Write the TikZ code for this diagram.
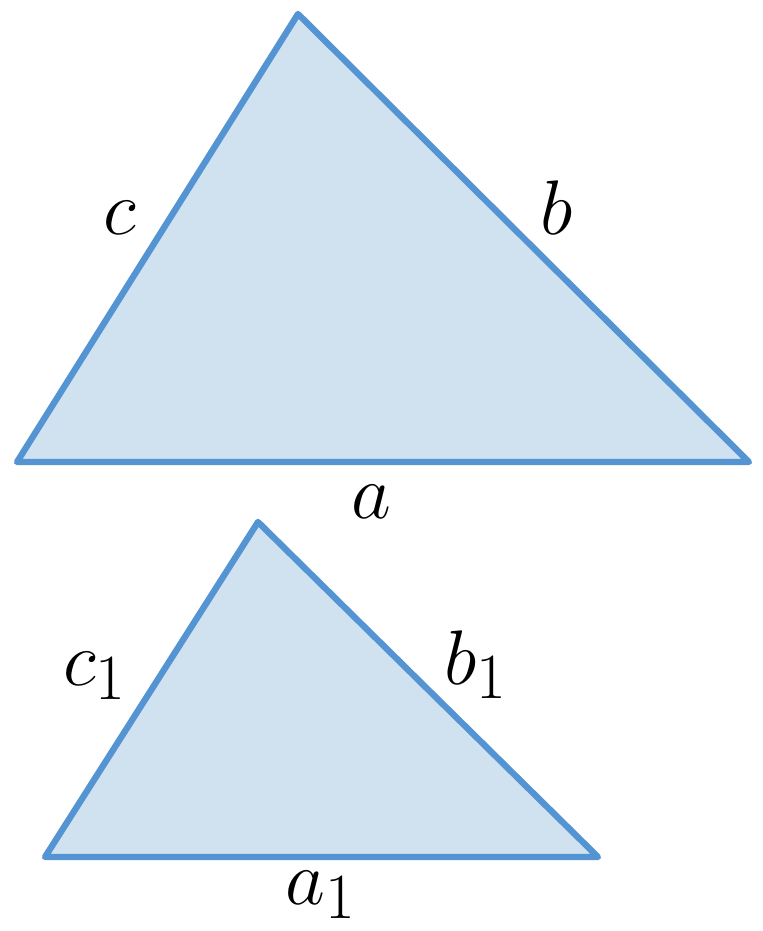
\documentclass[tikz,border=0pt]{standalone}
\usepackage{graphicx}
\newcommand{\biglbl}[1]{\scalebox{1.77}{\Huge$#1$}}
\begin{document}
\begin{tikzpicture}[x=0.02cm,y=-0.02cm,
  tri/.style={draw=edgeblue,fill=fillblue,line width=3.6pt,line join=round},
  lbl/.style={inner sep=0pt, anchor=base west}]
\definecolor{edgeblue}{RGB}{84,148,210}
\definecolor{fillblue}{RGB}{208,226,240}
\useasboundingbox[fill=white] (0,0) rectangle (762,931);
\coordinate (A1) at (17,462);
\coordinate (B1) at (298,14);
\coordinate (C1) at (749,462);
\draw[tri] (A1) -- (B1) -- (C1) -- cycle;
\coordinate (A2) at (45,857);
\coordinate (B2) at (258,522);
\coordinate (C2) at (598,857);
\draw[tri] (A2) -- (B2) -- (C2) -- cycle;
\node[lbl] (c) at (103,234) {\biglbl{c}};
\node[lbl] (b) at (540,234) {\biglbl{b}};
\node[lbl] (a) at (351,518) {\biglbl{a}};
\node[lbl] (c1) at (63,685) {\biglbl{c_1}};
\node[lbl] (b1) at (444,684) {\biglbl{b_1}};
\node[lbl] (a1) at (285,904) {\biglbl{a_1}};
\end{tikzpicture}
\end{document}
